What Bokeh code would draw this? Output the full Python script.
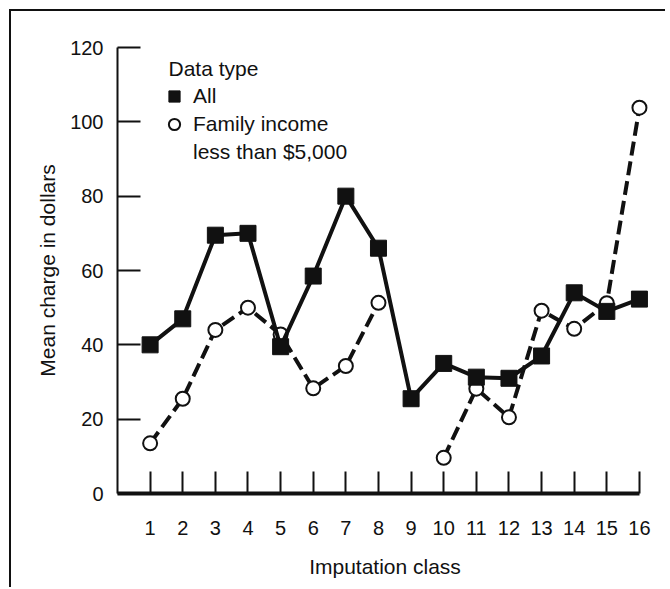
import numpy as np
from bokeh.plotting import figure
from bokeh.models import Range1d, FixedTicker, Legend, LegendItem, Label, ColumnDataSource
from bokeh.embed import file_html
from bokeh.resources import INLINE

# ---- data ----
classes = list(range(1, 17))
all_charge = [40, 47, 69.5, 70, 39.5, 58.5, 80, 66, 25.5, 35, 31.3, 31, 37, 54, 49, 52.3]
low_income_charge = [13.5, 25.5, 44, 50, 42.8, 28.3, 34.3, 51.3, None, 9.6, 28.2, 20.5, 49.2, 44.3, 51.2, 103.8]
y_ticks = [0, 20, 40, 60, 80, 100, 120]
x_label = "Imputation class"
y_label = "Mean charge in dollars"
legend_title = "Data type"
series_names = ["All", "Family income", "less than $5,000"]

FONT = "Liberation Sans"
FS = "20px"
FS_L = "21px"

low = [np.nan if v is None else v for v in low_income_charge]
src_all = ColumnDataSource(dict(x=classes, y=all_charge))
src_low = ColumnDataSource(dict(x=classes, y=low))

p = figure(width=656, height=578,
           x_range=Range1d(0, 16.4), y_range=Range1d(0, 120),
           output_backend="svg", toolbar_location=None,
           min_border_left=106, min_border_right=15,
           min_border_top=36, min_border_bottom=96)
p.styles = {"margin-left": "9px", "margin-top": "9px",
            "border-left": "2px solid #111", "border-top": "2px solid #111"}
p.xgrid.visible = False
p.ygrid.visible = False
p.outline_line_color = None
p.background_fill_color = "white"
p.border_fill_color = "white"

# x axis
xa = p.xaxis[0]
xa.ticker = FixedTicker(ticks=classes)
xa.bounds = (0, 16)
xa.axis_line_width = 4
xa.axis_line_color = "#111"
xa.major_tick_in = 22
xa.major_tick_out = 0
xa.major_tick_line_width = 2
xa.major_tick_line_color = "#111"
xa.minor_tick_in = 0
xa.minor_tick_out = 0
xa.major_label_standoff = 27
xa.major_label_text_font = FONT
xa.major_label_text_font_size = FS
xa.major_label_text_color = "#111"
xa.axis_label = x_label
xa.axis_label_text_font = FONT
xa.axis_label_text_font_size = FS_L
xa.axis_label_text_font_style = "normal"
xa.axis_label_text_color = "#111"
xa.axis_label_standoff = 17

# y axis
ya = p.yaxis[0]
ya.ticker = FixedTicker(ticks=y_ticks)
ya.axis_line_width = 2
ya.axis_line_color = "#111"
ya.major_tick_in = 23
ya.major_tick_out = 0
ya.major_tick_line_width = 2
ya.major_tick_line_color = "#111"
ya.minor_tick_in = 0
ya.minor_tick_out = 0
ya.major_label_standoff = 14
ya.major_label_text_font = FONT
ya.major_label_text_font_size = FS
ya.major_label_text_color = "#111"
ya.axis_label = y_label
ya.axis_label_text_font = FONT
ya.axis_label_text_font_size = FS_L
ya.axis_label_text_font_style = "normal"
ya.axis_label_text_color = "#111"
ya.axis_label_standoff = 8

# series
p.line("x", "y", source=src_low, line_width=4, line_color="#111", line_dash="14 6")
r_low = p.scatter("x", "y", source=src_low, marker="circle", size=14,
                  fill_color="white", line_color="#111", line_width=2)
p.line("x", "y", source=src_all, line_width=4, line_color="#111")
r_all = p.scatter("x", "y", source=src_all, marker="square", size=16,
                  fill_color="#111", line_color="#111")
# invisible renderer for the second line of the legend label
r_blank = p.scatter(x=[], y=[], marker="circle", size=1, fill_alpha=0, line_alpha=0)

legend = Legend(items=[LegendItem(label=series_names[0], renderers=[r_all]),
                       LegendItem(label=series_names[1], renderers=[r_low]),
                       LegendItem(label=series_names[2], renderers=[r_blank])],
                location=(43, 327), orientation="vertical",
                glyph_width=28, glyph_height=28, label_standoff=5,
                spacing=0, padding=0, margin=0,
                border_line_alpha=0, background_fill_alpha=0,
                label_text_font=FONT, label_text_font_size=FS_L,
                label_text_color="#111", label_height=28)
p.add_layout(legend, "center")

title_lbl = Label(x=51, y=425, x_units="screen", y_units="screen", text=legend_title,
                  text_font=FONT, text_font_size=FS_L, text_color="#111",
                  text_baseline="middle", text_align="left")
p.add_layout(title_lbl)

open("out.html", "w").write(file_html(p, INLINE))
